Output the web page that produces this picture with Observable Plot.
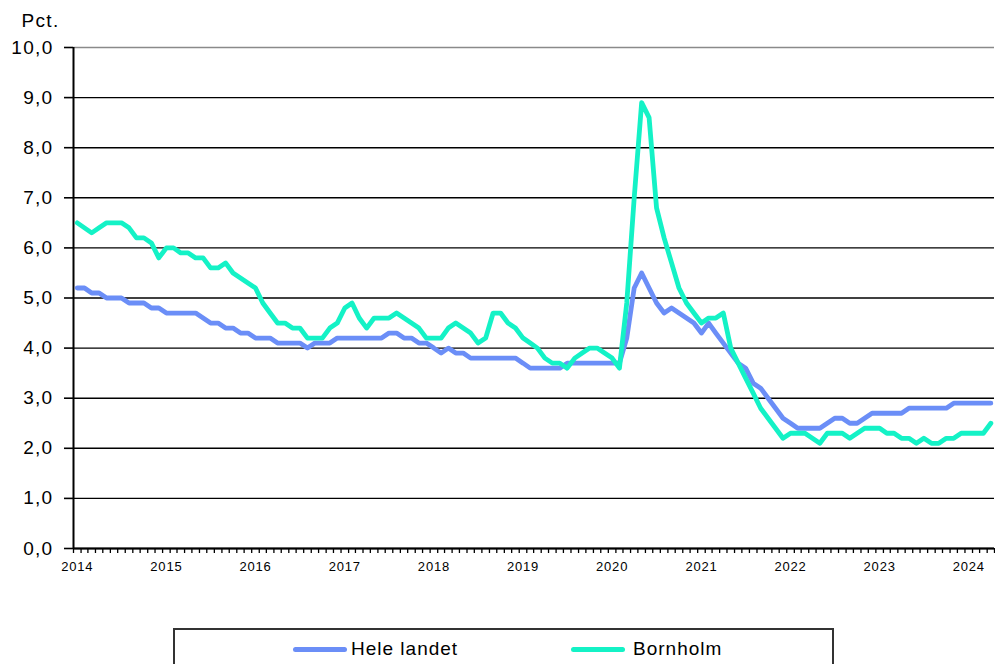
<!DOCTYPE html>
<html>
<head>
<meta charset="utf-8">
<script src="https://cdn.jsdelivr.net/npm/d3@7"></script>
<script src="https://cdn.jsdelivr.net/npm/@observablehq/plot@0.6"></script>
<style>
  body { margin: 0; background: #fff; font-family: "Liberation Sans", Arial, sans-serif; }
  #wrap { position: relative; width: 995px; height: 664px; overflow: hidden; }
  #legend { position: absolute; left: 173px; top: 628px; width: 661px; height: 60px; border: 2px solid #333; box-sizing: border-box; background: #fff; }
  .item { position: absolute; top: 9px; font-size: 19px; letter-spacing: 1px; color: #000; line-height: 20px; }
  .sw { position: absolute; top: 17px; width: 54px; height: 5px; border-radius: 3px; }
</style>
</head>
<body>
<div id="wrap">
  <div id="chart"></div>
  <div id="legend"></div>
</div>
<script>
// ---- Data (monthly, Jan 2014 – Apr 2024) ----
const seriesNames = ["Hele landet", "Bornholm"];
const seriesColors = ["#6b8ef7", "#14f2c6"];
const firstMonth = "2014-01";
const lastMonthExclusive = "2024-05";
const yTicks = [0, 1, 2, 3, 4, 5, 6, 7, 8, 9, 10];
const yearLabels = [2014, 2015, 2016, 2017, 2018, 2019, 2020, 2021, 2022, 2023, 2024];

const heleLandet = [
  5.2, 5.2, 5.1, 5.1, 5.0, 5.0, 5.0, 4.9, 4.9, 4.9, 4.8, 4.8, // 2014
  4.7, 4.7, 4.7, 4.7, 4.7, 4.6, 4.5, 4.5, 4.4, 4.4, 4.3, 4.3, // 2015
  4.2, 4.2, 4.2, 4.1, 4.1, 4.1, 4.1, 4.0, 4.1, 4.1, 4.1, 4.2, // 2016
  4.2, 4.2, 4.2, 4.2, 4.2, 4.2, 4.3, 4.3, 4.2, 4.2, 4.1, 4.1, // 2017
  4.0, 3.9, 4.0, 3.9, 3.9, 3.8, 3.8, 3.8, 3.8, 3.8, 3.8, 3.8, // 2018
  3.7, 3.6, 3.6, 3.6, 3.6, 3.6, 3.7, 3.7, 3.7, 3.7, 3.7, 3.7, // 2019
  3.7, 3.7, 4.2, 5.2, 5.5, 5.2, 4.9, 4.7, 4.8, 4.7, 4.6, 4.5, // 2020
  4.3, 4.5, 4.3, 4.1, 3.9, 3.7, 3.6, 3.3, 3.2, 3.0, 2.8, 2.6, // 2021
  2.5, 2.4, 2.4, 2.4, 2.4, 2.5, 2.6, 2.6, 2.5, 2.5, 2.6, 2.7, // 2022
  2.7, 2.7, 2.7, 2.7, 2.8, 2.8, 2.8, 2.8, 2.8, 2.8, 2.9, 2.9, // 2023
  2.9, 2.9, 2.9, 2.9                                          // 2024
];
const bornholm = [
  6.5, 6.4, 6.3, 6.4, 6.5, 6.5, 6.5, 6.4, 6.2, 6.2, 6.1, 5.8, // 2014
  6.0, 6.0, 5.9, 5.9, 5.8, 5.8, 5.6, 5.6, 5.7, 5.5, 5.4, 5.3, // 2015
  5.2, 4.9, 4.7, 4.5, 4.5, 4.4, 4.4, 4.2, 4.2, 4.2, 4.4, 4.5, // 2016
  4.8, 4.9, 4.6, 4.4, 4.6, 4.6, 4.6, 4.7, 4.6, 4.5, 4.4, 4.2, // 2017
  4.2, 4.2, 4.4, 4.5, 4.4, 4.3, 4.1, 4.2, 4.7, 4.7, 4.5, 4.4, // 2018
  4.2, 4.1, 4.0, 3.8, 3.7, 3.7, 3.6, 3.8, 3.9, 4.0, 4.0, 3.9, // 2019
  3.8, 3.6, 4.9, 7.0, 8.9, 8.6, 6.8, 6.2, 5.7, 5.2, 4.9, 4.7, // 2020
  4.5, 4.6, 4.6, 4.7, 4.0, 3.7, 3.4, 3.1, 2.8, 2.6, 2.4, 2.2, // 2021
  2.3, 2.3, 2.3, 2.2, 2.1, 2.3, 2.3, 2.3, 2.2, 2.3, 2.4, 2.4, // 2022
  2.4, 2.3, 2.3, 2.2, 2.2, 2.1, 2.2, 2.1, 2.1, 2.2, 2.2, 2.3, // 2023
  2.3, 2.3, 2.3, 2.5                                          // 2024
];

// ---- Build ----
const start = d3.utcParse("%Y-%m")(firstMonth);
const end = d3.utcParse("%Y-%m")(lastMonthExclusive);
const months = d3.utcMonth.range(start, end);
const midMonth = d => new Date((+d + +d3.utcMonth.offset(d, 1)) / 2);
const xMid = months.map(midMonth);
const monthBoundaries = d3.utcMonth.range(start, d3.utcMonth.offset(end, 1));
const yearTicks = yearLabels.map(y => midMonth(new Date(Date.UTC(y, 0, 1))));
const fmtY = d => d.toFixed(1).replace(".", ",");

const chart = Plot.plot({
  width: 995,
  height: 600,
  marginLeft: 73,
  marginRight: 1,
  marginTop: 47,
  marginBottom: 52,
  style: { fontFamily: "'Liberation Sans', Arial, sans-serif", color: "#000", background: "#fff", overflow: "visible" },
  x: { type: "utc", domain: [start, end] },
  y: { domain: [0, 10] },
  marks: [
    Plot.ruleY(yTicks.filter(d => d < 10), { stroke: "#000", strokeWidth: 1.4 }),
    Plot.ruleY(yTicks.filter(d => d === 10), { stroke: "#8a8a8a", strokeWidth: 1.4 }),
    Plot.axisY({ ticks: yTicks, tickSize: 9, tickPadding: 11, tickFormat: fmtY, fontSize: 19, label: null, strokeWidth: 1.6 }),
    Plot.axisX({ ticks: monthBoundaries, tickSize: 5, tickFormat: () => "", label: null, strokeWidth: 1.3 }),
    Plot.axisX({ ticks: yearTicks, tickSize: 0, tickPadding: 13, tickFormat: d3.utcFormat("%Y"), fontSize: 13, label: null }),
    Plot.ruleX([start], { stroke: "#000", strokeWidth: 2 }),
    Plot.ruleY([0], { stroke: "#000", strokeWidth: 2 }),
    Plot.lineY(heleLandet, { x: (d, i) => xMid[i], y: d => d, stroke: seriesColors[0], strokeWidth: 4.8, strokeLinejoin: "round", curve: "linear" }),
    Plot.lineY(bornholm, { x: (d, i) => xMid[i], y: d => d, stroke: seriesColors[1], strokeWidth: 4.8, strokeLinejoin: "round", curve: "linear" }),
    Plot.text(["Pct."], { frameAnchor: "top-left", dx: -14, dy: -34, textAnchor: "end", lineAnchor: "top", fontSize: 19 })
  ]
});
document.getElementById("chart").appendChild(chart);

// letter spacing to match the wider original glyphs
d3.select(chart).selectAll('[aria-label="y-axis tick label"] text').attr("letter-spacing", "1.3px");
d3.select(chart).selectAll('[aria-label="text"] text').attr("letter-spacing", "1.3px");
d3.select(chart).selectAll('[aria-label="x-axis tick label"] text').attr("letter-spacing", "0.8px");

// ---- Legend ----
const legend = document.getElementById("legend");
const legendPos = [{ sw: 118, tx: 176 }, { sw: 396, tx: 458 }];
seriesNames.forEach((name, i) => {
  const sw = document.createElement("div");
  sw.className = "sw";
  sw.style.left = legendPos[i].sw + "px";
  sw.style.background = seriesColors[i];
  legend.appendChild(sw);
  const t = document.createElement("div");
  t.className = "item";
  t.style.left = legendPos[i].tx + "px";
  t.textContent = name;
  legend.appendChild(t);
});
</script>
</body>
</html>
